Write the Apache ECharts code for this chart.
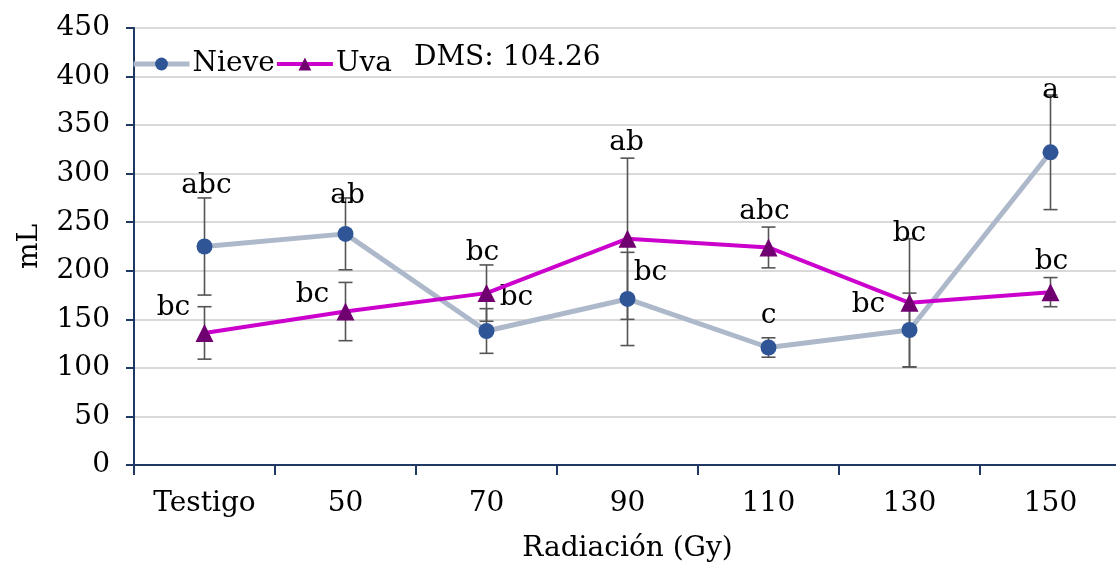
<!DOCTYPE html>
<html>
<head>
<meta charset="utf-8">
<script src="https://cdn.jsdelivr.net/npm/echarts@6/dist/echarts.min.js"></script>
<style>
  html, body { margin: 0; padding: 0; background: #fff; }
  #chart { width: 1116px; height: 565px; }
</style>
</head>
<body>
<div id="chart"></div>
<script>
var categories = ['Testigo', '50', '70', '90', '110', '130', '150'];
var nieve = [225, 238, 138, 171, 121, 139, 322];
var nieveErr = [50, 37, 23, 48, 10, 38, 59];
var uva = [136, 158, 177, 233, 224, 167, 178];
var uvaErr = [27, 30, 29, 83, 21, 66, 15];
var nieveLetters = ['abc', 'ab', 'bc', 'bc', 'c', 'bc', 'a'];
var uvaLetters = ['bc', 'bc', 'bc', 'ab', 'abc', 'bc', 'bc'];

// label offsets relative to the point (pixels)
var nieveOff = [[2, -61], [2, -38], [30, -33], [23, -26], [0, -32], [-41, -25], [0, -62]];
var uvaOff = [[-31, -25], [-33, -17], [-4, -40], [-1, -96], [-4, -36], [0, -69], [1, -30]];

var font = 'DejaVu Serif';
var fs = 28;
var navy = '#1f3864';

var myChart = echarts.init(document.getElementById('chart'));

function withLabels(vals, letters, offs) {
    return vals.map(function (v, i) {
        return {
            value: v,
            label: {
                show: true,
                formatter: letters[i],
                position: 'inside',
                offset: offs[i],
                color: '#000',
                fontFamily: font,
                fontSize: fs
            }
        };
    });
}

function errData(vals, errs) {
    return vals.map(function (v, i) { return [i, v - errs[i], v + errs[i]]; });
}

function renderErr(params, api) {
    var x = api.value(0);
    var lo = api.coord([x, api.value(1)]);
    var hi = api.coord([x, api.value(2)]);
    var w = 7;
    var style = { stroke: '#555555', lineWidth: 1.6 };
    return {
        type: 'group',
        children: [
            { type: 'line', shape: { x1: lo[0], y1: lo[1], x2: hi[0], y2: hi[1] }, style: style },
            { type: 'line', shape: { x1: lo[0] - w, y1: lo[1], x2: lo[0] + w, y2: lo[1] }, style: style },
            { type: 'line', shape: { x1: hi[0] - w, y1: hi[1], x2: hi[0] + w, y2: hi[1] }, style: style }
        ]
    };
}

var option = {
    animation: false,
    grid: { left: 134, right: -5, top: 28, bottom: 100, outerBoundsMode: 'none' },
    legend: {
        left: 126,
        top: 45,
        itemWidth: 56,
        itemHeight: 16,
        itemGap: 0,
        textStyle: { fontFamily: font, fontSize: fs, color: '#000', padding: [0, 0, 0, -2] },
        data: [
            { name: 'Nieve', lineStyle: { width: 5, color: '#adb9ca' } },
            { name: 'Uva', lineStyle: { width: 4, color: '#cc00cc' } }
        ]
    },
    graphic: [{
        type: 'text',
        left: 414,
        top: 44,
        style: { text: 'DMS: 104.26', font: fs + 'px "DejaVu Serif"', fill: '#000' }
    }],
    xAxis: {
        type: 'category',
        data: categories,
        boundaryGap: true,
        name: 'Radiación (Gy)',
        nameLocation: 'middle',
        nameGap: 70,
        nameTextStyle: { fontFamily: font, fontSize: fs, color: '#000' },
        axisLine: { lineStyle: { color: navy, width: 2 } },
        axisTick: { show: true, length: 10, lineStyle: { color: navy, width: 2 } },
        axisLabel: { fontFamily: font, fontSize: fs, color: '#000', margin: 25 }
    },
    yAxis: {
        type: 'value',
        min: 0,
        max: 450,
        interval: 50,
        name: 'mL',
        nameLocation: 'middle',
        nameGap: 90,
        nameRotate: 90,
        nameTextStyle: { fontFamily: font, fontSize: fs, color: '#000' },
        axisLine: { show: true, lineStyle: { color: navy, width: 2 } },
        axisTick: { show: true, length: 8, lineStyle: { color: navy, width: 2 } },
        axisLabel: { fontFamily: font, fontSize: fs, color: '#000', margin: 24 },
        splitLine: { lineStyle: { color: '#d9d9d9', width: 2 } }
    },
    series: [
        {
            name: 'errNieve',
            type: 'custom',
            renderItem: renderErr,
            data: errData(nieve, nieveErr),
            z: 1,
            silent: true
        },
        {
            name: 'errUva',
            type: 'custom',
            renderItem: renderErr,
            data: errData(uva, uvaErr),
            z: 1,
            silent: true
        },
        {
            name: 'Nieve',
            type: 'line',
            data: withLabels(nieve, nieveLetters, nieveOff),
            symbol: 'circle',
            symbolSize: 16,
            lineStyle: { color: '#adb9ca', width: 5 },
            itemStyle: { color: '#2f5597' },
            z: 3
        },
        {
            name: 'Uva',
            type: 'line',
            data: withLabels(uva, uvaLetters, uvaOff),
            symbol: 'triangle',
            symbolSize: 18,
            lineStyle: { color: '#cc00cc', width: 4 },
            itemStyle: { color: '#70006f' },
            z: 4
        }
    ]
};

myChart.setOption(option);
</script>
</body>
</html>
